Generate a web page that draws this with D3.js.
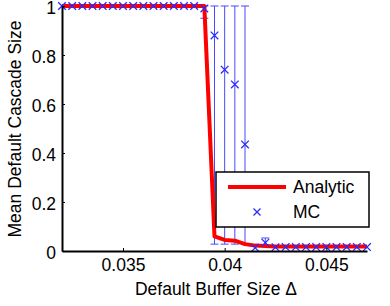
<!DOCTYPE html>
<html>
<head>
<meta charset="utf-8">
<script src="https://cdn.jsdelivr.net/npm/d3@7"></script>
<style>
body { margin: 0; background: #fff; }
svg { display: block; font-family: "Liberation Sans", Arial, sans-serif; }
</style>
</head>
<body>
<svg id="chart" width="390" height="306"></svg>
<script>
const buffer = [0.032, 0.0325, 0.033, 0.0335, 0.034, 0.0345, 0.035, 0.0355, 0.036, 0.0365, 0.037, 0.0375, 0.038, 0.0385, 0.039,
  0.0395, 0.040, 0.0405, 0.041, 0.0415, 0.042, 0.0425, 0.043, 0.0435, 0.044, 0.0445, 0.045, 0.0455, 0.046, 0.0465, 0.047]
const analytic = [1, 1, 1, 1, 1, 1, 1, 1, 1, 1, 1, 1, 1, 1, 1,
  0.06, 0.045, 0.042, 0.028, 0.022, 0.02, 0.018, 0.018, 0.018, 0.018, 0.018, 0.018, 0.018, 0.018, 0.018, 0.018]
const mc = [1, 1, 1, 1, 1, 1, 1, 1, 1, 1, 1, 1, 1, 1, 0.99,
  0.88, 0.74, 0.68, 0.435, 0.013, 0.034, 0.015, 0.016, 0.016, 0.016, 0.016, 0.016, 0.016, 0.016, 0.016, 0.016]
const mcLow = [1, 1, 1, 1, 1, 1, 1, 1, 1, 1, 1, 1, 1, 1, 0.95,
  0.028, 0.028, 0.028, 0.028, 0.013, 0.02, 0.015, 0.016, 0.016, 0.016, 0.016, 0.016, 0.016, 0.016, 0.016, 0.016]
const mcHigh = [1, 1, 1, 1, 1, 1, 1, 1, 1, 1, 1, 1, 1, 1, 1,
  1, 1, 1, 1, 0.013, 0.053, 0.015, 0.016, 0.016, 0.016, 0.016, 0.016, 0.016, 0.016, 0.016, 0.016]
const xTicks = [0.035, 0.04, 0.045]
const xTickLabels = ['0.035', '0.04', '0.045']
const yTicks = [0, 0.2, 0.4, 0.6, 0.8, 1]
const yTickLabels = ['0', '0.2', '0.4', '0.6', '0.8', '1']

const svg = d3.select('#chart')
const x = d3.scaleLinear().domain([0.032, 0.047]).range([62, 367])
const y = d3.scaleLinear().domain([0, 1]).range([251, 6])
const blue = '#2a2aff'
const fs = 17.5

// error bars
const eb = svg.append('g').attr('stroke', blue).attr('stroke-width', 1).attr('opacity', 0.85)
buffer.forEach((b, i) => {
  if (mcHigh[i] - mcLow[i] < 0.01) return
  const cx = x(b)
  eb.append('line').attr('x1', cx).attr('x2', cx).attr('y1', y(mcLow[i])).attr('y2', y(mcHigh[i]))
  eb.append('line').attr('x1', cx - 4).attr('x2', cx + 4).attr('y1', y(mcLow[i])).attr('y2', y(mcLow[i]))
  eb.append('line').attr('x1', cx - 4).attr('x2', cx + 4).attr('y1', y(mcHigh[i])).attr('y2', y(mcHigh[i]))
})

// analytic line
svg.append('path').datum(buffer.map((b, i) => [b, analytic[i]]))
  .attr('fill', 'none').attr('stroke', '#ff0000').attr('stroke-width', 4).attr('stroke-linejoin', 'round')
  .attr('d', d3.line().x(d => x(d[0])).y(d => y(d[1])))

// MC markers
const mk = svg.append('g').attr('stroke', blue).attr('stroke-width', 1.3)
buffer.forEach((b, i) => {
  const cx = x(b), cy = y(mc[i]), r = 3.8
  mk.append('path').attr('d', `M${cx - r},${cy - r}L${cx + r},${cy + r}M${cx - r},${cy + r}L${cx + r},${cy - r}`)
})

// axes
const xAxis = svg.append('g').attr('transform', 'translate(0,251)')
  .call(d3.axisBottom(x).tickValues(xTicks).tickFormat((d, i) => xTickLabels[i]).tickSizeInner(-3).tickSizeOuter(0).tickPadding(9))
const yAxis = svg.append('g').attr('transform', 'translate(62,0)')
  .call(d3.axisLeft(y).tickValues(yTicks).tickFormat((d, i) => yTickLabels[i]).tickSizeInner(-3).tickSizeOuter(0).tickPadding(6))
;[xAxis, yAxis].forEach(a => {
  a.select('.domain').attr('stroke', '#000').attr('stroke-width', 2)
  a.selectAll('.tick line').attr('stroke', '#000').attr('stroke-width', 1)
  a.selectAll('.tick text').attr('fill', '#000').attr('font-size', fs).attr('font-family', '"Liberation Sans", Arial, sans-serif')
})
xAxis.selectAll('.tick text').attr('dy', '0.62em')
yAxis.selectAll('.tick text').attr('dy', '0.45em')

svg.append('text').attr('x', 216).attr('y', 295).attr('text-anchor', 'middle')
  .attr('font-size', fs).text('Default Buffer Size Δ')
svg.append('text').attr('transform', 'translate(21,129) rotate(-90)').attr('text-anchor', 'middle')
  .attr('font-size', fs).text('Mean Default Cascade Size')

// legend
const lg = svg.append('g')
lg.append('rect').attr('x', 216).attr('y', 172).attr('width', 153).attr('height', 55)
  .attr('fill', '#fff').attr('stroke', '#000').attr('stroke-width', 1.5)
lg.append('line').attr('x1', 228).attr('x2', 286).attr('y1', 187).attr('y2', 187)
  .attr('stroke', '#ff0000').attr('stroke-width', 4)
lg.append('path').attr('d', 'M253.5,208.5L260.5,215.5M253.5,215.5L260.5,208.5').attr('stroke', blue).attr('stroke-width', 1.3)
lg.append('text').attr('x', 293).attr('y', 193).attr('font-size', fs).text('Analytic')
lg.append('text').attr('x', 293).attr('y', 218).attr('font-size', fs).text('MC')
</script>
</body>
</html>
